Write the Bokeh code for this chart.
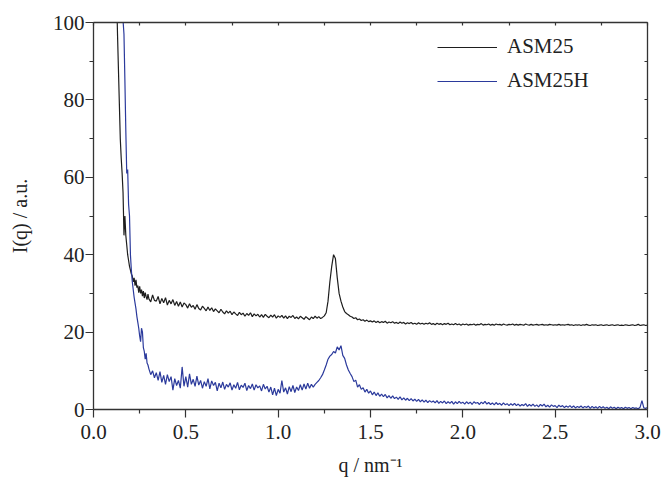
from bokeh.plotting import figure
from bokeh.models import LinearAxis, Range1d, Legend, LegendItem, FixedTicker, ColumnDataSource, PrintfTickFormatter
from bokeh.embed import file_html
from bokeh.resources import INLINE

# scattering vector q (nm^-1)
q = [0.120, 0.125, 0.130, 0.135, 0.140, 0.145, 0.150, 0.155, 0.160, 0.165,
     0.170, 0.175, 0.180, 0.185, 0.190, 0.195, 0.200, 0.205, 0.210, 0.215,
     0.220, 0.225, 0.230, 0.235, 0.240, 0.245, 0.250, 0.255, 0.260, 0.265,
     0.270, 0.275, 0.280, 0.285, 0.290, 0.295, 0.300,
     0.31, 0.32, 0.33, 0.34, 0.35, 0.36, 0.37, 0.38, 0.39, 0.40,
     0.41, 0.42, 0.43, 0.44, 0.45, 0.46, 0.47, 0.48, 0.49, 0.50,
     0.51, 0.52, 0.53, 0.54, 0.55, 0.56, 0.57, 0.58, 0.59, 0.60,
     0.61, 0.62, 0.63, 0.64, 0.65, 0.66, 0.67, 0.68, 0.69, 0.70,
     0.71, 0.72, 0.73, 0.74, 0.75, 0.76, 0.77, 0.78, 0.79, 0.80,
     0.81, 0.82, 0.83, 0.84, 0.85, 0.86, 0.87, 0.88, 0.89, 0.90,
     0.91, 0.92, 0.93, 0.94, 0.95, 0.96, 0.97, 0.98, 0.99, 1.00,
     1.01, 1.02, 1.03, 1.04, 1.05, 1.06, 1.07, 1.08, 1.09, 1.10,
     1.11, 1.12, 1.13, 1.14, 1.15, 1.16, 1.17, 1.18, 1.19, 1.20,
     1.21, 1.22, 1.23, 1.24, 1.25, 1.26, 1.27, 1.28, 1.29, 1.30,
     1.31, 1.32, 1.33, 1.34, 1.35, 1.36, 1.37, 1.38, 1.39, 1.40,
     1.41, 1.42, 1.43, 1.44, 1.45, 1.46, 1.47, 1.48, 1.49, 1.50,
     1.51, 1.52, 1.53, 1.54, 1.55, 1.56, 1.57, 1.58, 1.59, 1.60,
     1.61, 1.62, 1.63, 1.64, 1.65, 1.66, 1.67, 1.68, 1.69, 1.70,
     1.71, 1.72, 1.73, 1.74, 1.75, 1.76, 1.77, 1.78, 1.79, 1.80,
     1.81, 1.82, 1.83, 1.84, 1.85, 1.86, 1.87, 1.88, 1.89, 1.90,
     1.91, 1.92, 1.93, 1.94, 1.95, 1.96, 1.97, 1.98, 1.99, 2.00,
     2.01, 2.02, 2.03, 2.04, 2.05, 2.06, 2.07, 2.08, 2.09, 2.10,
     2.11, 2.12, 2.13, 2.14, 2.15, 2.16, 2.17, 2.18, 2.19, 2.20,
     2.21, 2.22, 2.23, 2.24, 2.25, 2.26, 2.27, 2.28, 2.29, 2.30,
     2.31, 2.32, 2.33, 2.34, 2.35, 2.36, 2.37, 2.38, 2.39, 2.40,
     2.41, 2.42, 2.43, 2.44, 2.45, 2.46, 2.47, 2.48, 2.49, 2.50,
     2.51, 2.52, 2.53, 2.54, 2.55, 2.56, 2.57, 2.58, 2.59, 2.60,
     2.61, 2.62, 2.63, 2.64, 2.65, 2.66, 2.67, 2.68, 2.69, 2.70,
     2.71, 2.72, 2.73, 2.74, 2.75, 2.76, 2.77, 2.78, 2.79, 2.80,
     2.81, 2.82, 2.83, 2.84, 2.85, 2.86, 2.87, 2.88, 2.89, 2.90,
     2.91, 2.92, 2.93, 2.94, 2.95, 2.96, 2.97, 2.98, 2.99, 3.00]

# ASM25 intensity
asm25 = [125, 108, 97, 88, 79, 70, 65, 61, 56, 45,
         50, 45, 42.5, 40, 38.5, 37, 36, 35, 34.5, 33,
         34, 32, 33.5, 31.5, 32, 30.2, 31.8, 30, 31, 29.3,
         30.6, 28.8, 30.2, 29.2, 28.4, 29.8, 28.6,
         27.8, 29.6, 28.2, 28, 29.2, 27.3, 28.7, 27.6, 28.9, 27,
         28.2, 27.3, 28.4, 26.9, 27.9, 26.7, 27.8, 26.5, 27.5, 27.1,
         26.2, 27.3, 26.4, 26.9, 25.9, 27.1, 26.1, 25.7, 26.7, 26.1,
         25.5, 26.5, 25.6, 26.3, 25.3, 26, 25.5, 25, 25.9, 25.2,
         24.7, 25.5, 24.9, 25.4, 24.5, 25.2, 24.7, 24.3, 25.1, 24.5,
         24.9, 24.1, 24.8, 24.3, 25, 24, 24.7, 24.2, 24.6, 23.9,
         24.5, 23.8, 24.6, 24.1, 23.7, 24.4, 23.9, 24.5, 23.6, 24.2,
         23.8, 24.3, 23.6, 24.2, 23.5, 24.1, 23.8, 24.3, 23.5, 23.9,
         23.4, 24.1, 23.7, 23.3, 24, 23.6, 23.2, 23.9, 23.5, 24.1,
         23.6, 24, 23.5, 23.8, 24.2, 25, 28, 33, 37, 40,
         39, 34, 30, 28, 26.5, 25.3, 24.8, 24.5, 24.1, 23.9,
         23.5, 23.7, 23.2, 23.4, 23, 23.2, 22.8, 23.1, 22.7, 22.9,
         22.6, 22.9, 22.5, 22.8, 22.4, 22.7, 22.5, 22.8, 22.3, 22.6,
         22.4, 22.7, 22.3, 22.5, 22.2, 22.6, 22.3, 22.5, 22.1, 22.4,
         22.2, 22.5, 22.1, 22.3, 22.0, 22.4, 22.1, 22.3, 22.0, 22.3,
         22.1, 22.4, 22.0, 22.2, 21.9, 22.3, 22.0, 22.2, 21.9, 22.2,
         22.0, 22.3, 21.9, 22.1, 21.9, 22.2, 21.9, 22.1, 21.8, 22.1,
         21.9, 22.1, 21.8, 22.0, 21.9, 22.1, 21.8, 22.0, 21.9, 22.2,
         21.8, 22.0, 21.9, 22.1, 21.8, 22.0, 21.8, 22.1, 21.9, 22.0,
         21.8, 22.1, 21.9, 21.8, 22.0, 21.9, 22.1, 21.8, 22.0, 21.8,
         22.0, 21.9, 21.8, 22.1, 21.9, 21.8, 22.0, 21.8, 21.9, 22.0,
         21.8, 21.9, 22.0, 21.8, 21.9, 21.8, 22.0, 21.9, 21.8, 21.9,
         21.8, 22.0, 21.8, 21.9, 21.8, 21.9, 22.0, 21.8, 21.9, 21.7,
         21.9, 21.8, 21.9, 21.7, 21.9, 21.8, 22.0, 21.8, 21.7, 21.9,
         21.8, 21.9, 21.7, 21.8, 21.9, 21.7, 21.8, 21.9, 21.7, 21.8,
         21.9, 21.7, 21.8, 21.9, 21.7, 21.8, 21.7, 21.9, 21.8, 21.7,
         21.8, 21.9, 21.7, 21.8, 22.0, 21.7, 21.8, 21.9, 21.7, 21.8]

# ASM25H intensity
asm25h = [170, 155, 142, 130, 120, 112, 106, 103, 100.5, 97,
          85, 72, 61, 62, 53, 50, 40, 36, 33, 31,
          29, 27.5, 26, 24, 22.5, 21, 19, 17.5, 21, 20,
          16, 15, 13, 14.5, 12, 11.5, 10.5,
          9, 10, 8.2, 9.5, 7.5, 9.8, 7, 8.8, 6.5, 9,
          7.2, 8.5, 5, 8, 6.2, 7.5, 5.5, 11, 6, 8.5,
          5.8, 9.2, 6.5, 7.8, 6, 8.6, 6.3, 7.5, 5.5, 7.2,
          6, 8, 5.3, 7.4, 6.2, 7, 4.8, 6.8, 5.6, 7.1,
          5.2, 6.5, 5.8, 6.9, 5, 6.4, 5.5, 7, 5.1, 6.3,
          5.7, 6.8, 4.9, 6.2, 5.4, 6.6, 5, 6.4, 5.6, 6.1,
          4.8, 6.5, 5.3, 6, 4.5, 5.8, 3.8, 5.5, 3.6, 5.2,
          4.2, 7.5, 4.5, 5.6, 4, 5.9, 4.6, 6.2, 4.4, 5.8,
          4.9, 6.4, 5, 6.6, 5.3, 6.8, 5.5, 6.5, 5.8, 6.5,
          7, 7.5, 8.2, 9, 10.2, 11.5, 13, 13.8, 14.2, 15,
          14.6, 16.2, 15.4, 16.5, 14, 13.2, 11.5, 10.2, 9.3, 8.5,
          7.2, 7.6, 5.8, 6.4, 5.2, 5.6, 4.5, 5.2, 4.2, 4.8,
          3.8, 4.5, 3.6, 4.3, 3.4, 4, 3.3, 3.9, 3, 3.6,
          2.9, 3.5, 2.8, 3.2, 2.6, 3.3, 2.5, 3, 2.4, 2.9,
          2.3, 2.8, 2.2, 2.7, 2.1, 2.6, 2.0, 2.5, 1.9, 2.4,
          1.8, 2.3, 1.9, 2.2, 1.7, 2.3, 1.6, 2.1, 1.7, 2.2,
          1.5, 2.0, 1.6, 2.1, 1.4, 2.0, 1.5, 2.1, 1.6, 1.9,
          1.4, 2.0, 1.5, 1.9, 1.3, 2.0, 1.6, 1.8, 1.3, 1.9,
          1.5, 2.1, 1.4, 1.8, 1.3, 1.7, 1.2, 1.8, 1.3, 1.6,
          1.1, 1.7, 1.2, 1.5, 1.0, 1.5, 1.1, 1.6, 1.0, 1.4,
          0.9, 1.3, 1.0, 1.5, 0.8, 1.3, 0.9, 1.4, 0.8, 1.2,
          0.7, 1.3, 0.9, 1.4, 0.7, 1.1, 0.6, 1.2, 0.8, 1.0,
          0.5, 1.1, 0.7, 1.0, 0.5, 0.9, 0.6, 1.0, 0.5, 0.9,
          0.4, 0.8, 0.5, 0.9, 0.4, 0.8, 0.5, 0.9, 0.3, 0.8,
          0.4, 0.7, 0.3, 0.8, 0.4, 0.7, 0.3, 0.6, 0.2, 0.7,
          0.3, 0.6, 0.2, 0.6, 0.3, 0.5, 0.2, 0.6, 0.3, 0.5,
          0.2, 0.5, 0.3, 0.4, 0.2, 0.6, 2.3, 0.4, 0.3, 0.5]

x_ticks = [0.0, 0.5, 1.0, 1.5, 2.0, 2.5, 3.0]
x_minor = [0.25, 0.75, 1.25, 1.75, 2.25, 2.75]
y_ticks = [0, 20, 40, 60, 80, 100]
y_minor = [10, 30, 50, 70, 90]

FONT = "Liberation Serif"
BLACK = "#1e1e1e"
BLUE = "#2b3a9c"
AXC = "#333333"

p = figure(width=662, height=479, output_backend="svg", toolbar_location=None,
           x_range=Range1d(0, 3.0), y_range=Range1d(0, 100),
           min_border_left=93, min_border_right=15, min_border_top=22, min_border_bottom=70)
p.xaxis.visible = False
p.yaxis.visible = False
p.grid.visible = False
p.outline_line_color = None
p.background_fill_color = "white"

src = ColumnDataSource(dict(q=q, a=asm25, b=asm25h))
r1 = p.line("q", "a", source=src, line_color=BLACK, line_width=1.2)
r2 = p.line("q", "b", source=src, line_color=BLUE, line_width=1.2)

def style(ax, labels=True):
    ax.axis_line_color = AXC
    ax.axis_line_width = 1.3
    ax.major_tick_line_color = AXC
    ax.minor_tick_line_color = AXC
    ax.major_tick_line_width = 1.2
    ax.minor_tick_line_width = 1.2
    ax.major_label_text_font = FONT
    ax.major_label_text_font_size = "21px"
    ax.major_label_text_color = "#222222"
    ax.axis_label_text_font = FONT
    ax.axis_label_text_font_size = "20px"
    ax.axis_label_text_font_style = "normal"
    ax.axis_label_text_color = "#222222"
    if labels:
        ax.major_tick_in = 0
        ax.major_tick_out = 8
        ax.minor_tick_in = 0
        ax.minor_tick_out = 4
    else:
        ax.major_tick_in = 3
        ax.major_tick_out = 0
        ax.minor_tick_in = 3
        ax.minor_tick_out = 0
        ax.major_label_text_font_size = "1px"
        ax.major_label_text_color = None
        ax.major_label_standoff = 0

xb = LinearAxis(ticker=FixedTicker(ticks=x_ticks, minor_ticks=x_minor),
                axis_label="q / nm\u207b\u00b9",
                formatter=PrintfTickFormatter(format="%.1f"))
style(xb)
xb.major_label_standoff = 7
xb.axis_label_standoff = 12
p.add_layout(xb, "below")

yl = LinearAxis(ticker=FixedTicker(ticks=y_ticks, minor_ticks=y_minor),
                axis_label="I(q) / a.u.")
style(yl)
yl.major_label_standoff = 1
yl.axis_label_standoff = 19
p.add_layout(yl, "left")

xt = LinearAxis(ticker=FixedTicker(ticks=x_ticks, minor_ticks=x_minor))
style(xt, labels=False)
p.add_layout(xt, "above")

yr = LinearAxis(ticker=FixedTicker(ticks=y_ticks, minor_ticks=y_minor))
style(yr, labels=False)
p.add_layout(yr, "right")

legend = Legend(items=[LegendItem(label="ASM25", renderers=[r1]),
                       LegendItem(label="ASM25H", renderers=[r2])],
                location=(344, 316), orientation="vertical")
legend.border_line_alpha = 0
legend.background_fill_alpha = 0
legend.padding = 0
legend.margin = 0
legend.spacing = 9
legend.glyph_width = 60
legend.glyph_height = 22
legend.label_height = 22
legend.label_standoff = 10
legend.label_text_font = FONT
legend.label_text_font_size = "21px"
legend.label_text_color = "#222222"
p.add_layout(legend, "center")

open("out.html", "w").write(file_html(p, INLINE))
